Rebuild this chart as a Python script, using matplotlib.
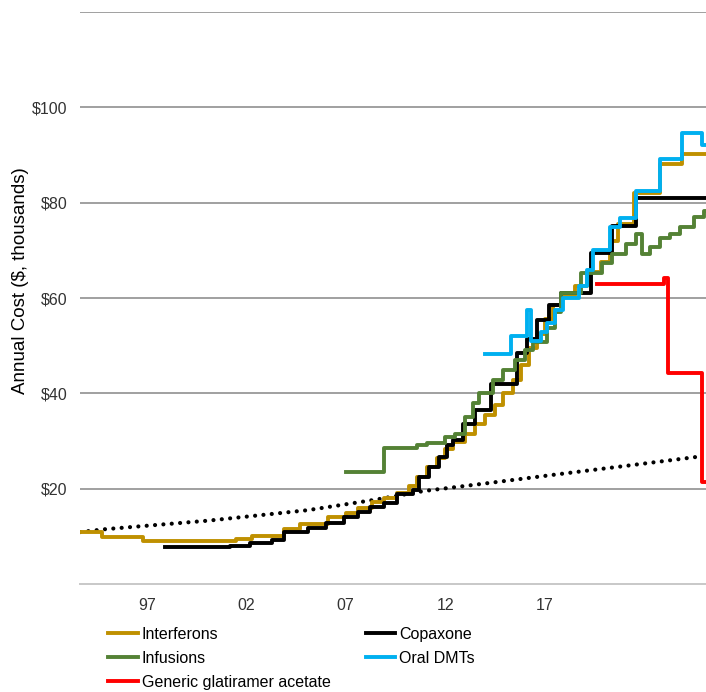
import matplotlib
matplotlib.use('Agg')
import matplotlib.pyplot as plt

plt.rcParams['font.family'] = ['Liberation Sans', 'DejaVu Sans']

# ---- data (year, annual cost in $ thousands) ----
interferons_x = [1993.65, 1994.75, 1996.8, 2001.5, 2002.3, 2003.9, 2004.7, 2006.1, 2007.0,
                 2007.6, 2008.3, 2008.9, 2009.6, 2010.2, 2010.6, 2011.1, 2011.6, 2012.0,
                 2012.4, 2013.0, 2013.5, 2014.0, 2014.5, 2014.9, 2015.4, 2015.8, 2016.2,
                 2016.6, 2017.0, 2017.4, 2017.8, 2018.5, 2019.1, 2019.8, 2020.3, 2020.7,
                 2021.5, 2022.8, 2023.9, 2025.2]
interferons_y = [10.9, 9.9, 9.0, 9.4, 10.1, 11.5, 12.6, 14.1, 14.9,
                 15.9, 17.2, 18.0, 19.0, 20.5, 22.4, 24.5, 26.5, 28.3,
                 29.8, 31.5, 33.5, 35.5, 37.5, 40.0, 42.7, 46.0, 49.5,
                 52.5, 55.5, 58.5, 60.5, 62.5, 65.5, 67.5, 72.0, 75.6,
                 82.0, 88.2, 90.2, 90.2]

copaxone_x = [1997.9, 2001.2, 2002.2, 2003.3, 2003.9, 2005.1, 2006.0, 2006.9, 2007.6,
              2008.2, 2008.9, 2009.6, 2010.4, 2010.7, 2011.2, 2011.7, 2012.1, 2012.4,
              2012.9, 2013.5, 2014.3, 2015.6, 2016.1, 2016.6, 2017.2, 2017.8, 2019.3,
              2020.4, 2021.6, 2025.2]
copaxone_y = [7.7, 8.0, 8.6, 9.2, 11.0, 11.8, 12.8, 14.0, 15.1,
              16.2, 17.0, 18.8, 19.7, 22.5, 24.6, 26.7, 29.1, 30.2,
              33.5, 36.5, 42.0, 48.4, 51.5, 55.3, 58.5, 61.0, 69.5,
              75.2, 81.0, 81.0]

infusions_x = [2007.0, 2008.9, 2010.6, 2011.1, 2012.0, 2012.5, 2013.0, 2013.4, 2013.7,
               2014.4, 2014.9, 2015.5, 2016.0, 2016.4, 2017.1, 2017.5, 2017.8, 2018.8,
               2019.9, 2020.4, 2021.1, 2021.6, 2021.9, 2022.3, 2022.8, 2023.3, 2023.8,
               2024.5, 2025.0, 2025.2]
infusions_y = [23.5, 28.5, 29.1, 29.6, 30.8, 31.5, 35.0, 38.0, 40.0,
               42.7, 44.8, 46.9, 49.0, 50.7, 53.8, 57.0, 61.0, 65.3,
               67.4, 69.3, 71.4, 73.5, 69.3, 70.6, 72.5, 73.5, 74.8,
               76.9, 78.3, 78.3]

oral_x = [2014.0, 2015.3, 2016.1, 2016.3, 2016.8, 2017.1, 2017.5, 2017.9, 2018.7,
          2019.1, 2019.4, 2020.3, 2020.8, 2021.6, 2022.8, 2023.9, 2024.9, 2025.2]
oral_y = [48.2, 52.1, 57.4, 51.0, 52.8, 54.7, 57.5, 60.1, 62.6,
          65.8, 70.0, 74.8, 76.7, 82.5, 89.2, 94.7, 92.0, 92.0]

generic_x = [2019.6, 2023.0, 2023.2, 2024.9, 2025.2]
generic_y = [63.0, 64.3, 44.2, 21.4, 21.4]

trend_x = [1993.65, 1994.9, 2000.1, 2005.1, 2008.5, 2010.9, 2014.2, 2017.6, 2020.9, 2024.7]
trend_y = [10.9, 11.5, 13.3, 15.5, 17.7, 19.5, 21.2, 23.0, 24.7, 26.7]

tick_years = [1997, 2002, 2007, 2012, 2017]
tick_labels = ['97', '02', '07', '12', '17']
y_ticks = [20, 40, 60, 80, 100, 120]
y_labels = ['$20', '$40', '$60', '$80', '$100', '']

fig = plt.figure(figsize=(7.06, 6.92), dpi=100)
ax = fig.add_axes([0.1133, 0.156, 0.8867, 0.8267])

lw = 2.8
ax.plot(trend_x, trend_y, color='black', lw=3.0, linestyle=(0, (0.01, 2.0)),
        dash_capstyle='round', zorder=2)
ax.plot(interferons_x, interferons_y, drawstyle='steps-post', color='#BF9000', lw=lw,
        label='Interferons', zorder=3)
ax.plot(infusions_x, infusions_y, drawstyle='steps-post', color='#548235', lw=lw,
        label='Infusions', zorder=4)
ax.plot(generic_x, generic_y, drawstyle='steps-post', color='#FF0000', lw=lw,
        label='Generic glatiramer acetate', zorder=4)
ax.plot(copaxone_x, copaxone_y, drawstyle='steps-post', color='black', lw=lw,
        label='Copaxone', zorder=3)
ax.plot(oral_x, oral_y, drawstyle='steps-post', color='#00B0F0', lw=lw,
        label='Oral DMTs', zorder=5)

ax.set_xlim(1993.65, 2025.1)
ax.set_ylim(0, 120)
ax.set_xticks(tick_years)
ax.set_xticklabels(tick_labels)
ax.set_yticks(y_ticks)
ax.set_yticklabels(y_labels)
ax.tick_params(axis='both', length=0, labelsize=11.5, colors='#333333')
ax.tick_params(axis='x', pad=10)
ax.tick_params(axis='y', pad=9)

ax.grid(axis='y', color='#A0A0A0', lw=1.4)
ax.set_axisbelow(True)
for s in ['left', 'right', 'top']:
    ax.spines[s].set_visible(False)
ax.spines['bottom'].set_color('#C8C8C8')
ax.spines['bottom'].set_linewidth(1.4)

ax.set_ylabel('Annual Cost ($, thousands)', fontsize=13.5, color='black')
ax.yaxis.set_label_coords(-0.082, 0.53)

fig.legend(loc='upper left', bbox_to_anchor=(0.153, 0.094), ncol=2, frameon=False,
           fontsize=11.5, handlelength=1.85, handletextpad=0.25, labelspacing=0.55,
           columnspacing=2.2, borderaxespad=0, borderpad=0)

fig.savefig('out.png', dpi=100)
